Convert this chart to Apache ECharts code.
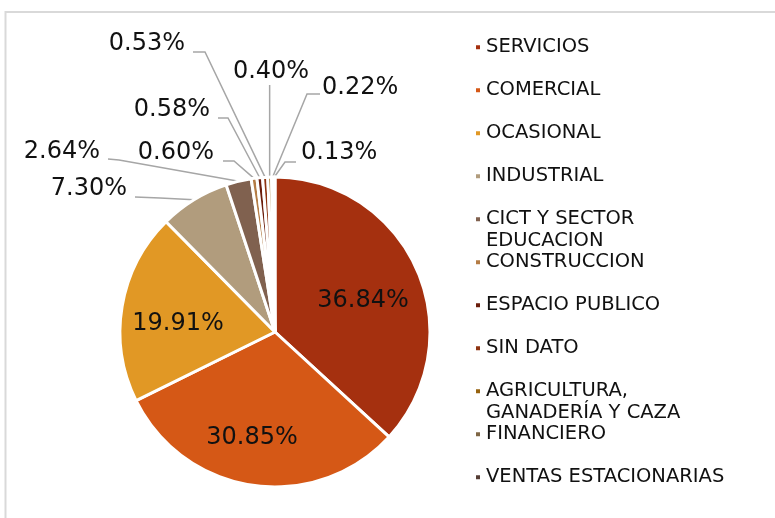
<!DOCTYPE html>
<html>
<head>
<meta charset="UTF-8">
<title>Usos</title>
<script src="https://cdn.jsdelivr.net/npm/echarts@6/dist/echarts.min.js"></script>
</head>
<body style="margin:0">

<div id="box" style="width:775px;height:518px;"></div>

<script type="text/javascript">

// datos
var categories = ['SERVICIOS', 'COMERCIAL', 'OCASIONAL', 'INDUSTRIAL', 'CICT Y SECTOR\nEDUCACION',
  'CONSTRUCCION', 'ESPACIO PUBLICO', 'SIN DATO', 'AGRICULTURA,\nGANADERÍA Y CAZA', 'FINANCIERO',
  'VENTAS ESTACIONARIAS'];
var shares = [36.84, 30.85, 19.91, 7.30, 2.64, 0.60, 0.58, 0.53, 0.40, 0.22, 0.13];

var colors = ['#A5300F', '#D55816', '#E19825', '#B19C7D', '#80614F', '#B47C45',
  '#6B1D0B', '#8E3310', '#96620F', '#7F6645', '#553D34'];

// donde va cada etiqueta y los quiebres de su linea guia
var labelSpots = [
  { x: 363, y: 301, align: 'center' },
  { x: 252, y: 438, align: 'center' },
  { x: 178, y: 324, align: 'center' },
  { x: 127, y: 189, align: 'right', bend: [[160, 198], [135, 197]] },
  { x: 100, y: 152, align: 'right', bend: [[119, 160], [108, 159]] },
  { x: 214, y: 153, align: 'right', bend: [[234, 161], [223, 161]] },
  { x: 210, y: 110, align: 'right', bend: [[228, 118], [218, 118]] },
  { x: 185, y: 44, align: 'right', bend: [[205, 52], [193, 52]] },
  { x: 271, y: 72, align: 'center', bend: [[null, 85]] },
  { x: 322, y: 88, align: 'left', bend: [[307, 94], [320, 94]] },
  { x: 301, y: 153, align: 'left', bend: [[285, 162], [296, 162]] }
];

var mychart = echarts.init(document.getElementById('box'));

var pieData = categories.map(function (name, i) {
  var outside = i > 2;
  return {
    name: name,
    value: shares[i],
    itemStyle: { color: colors[i] },
    label: { position: outside ? 'outside' : 'inside' },
    labelLine: { show: outside }
  };
});

// una leyenda por categoria para fijar el espaciado
var legends = categories.map(function (name, i) {
  var twoLines = name.indexOf('\n') >= 0;
  var center = 47.2 + i * 43;
  return {
    orient: 'vertical',
    left: 474,
    top: center - (twoLines ? 33 : 11),
    padding: 0,
    itemWidth: 6,
    itemHeight: 6,
    icon: 'rect',
    selectedMode: false,
    data: [name],
    // linea vacia arriba para que el cuadro quede junto a la primera linea
    formatter: function (n) { return n.indexOf('\n') >= 0 ? '\n' + n : n; },
    textStyle: {
      fontFamily: 'DejaVu Sans',
      fontSize: 19.5,
      lineHeight: 22,
      color: '#111'
    }
  };
});

var option = {
  animation: false,
  backgroundColor: '#fff',
  graphic: [{
    type: 'rect',
    shape: { x: 5.5, y: 12, width: 800, height: 540 },
    style: { fill: 'none', stroke: '#D9D9D9', lineWidth: 2 },
    silent: true
  }],
  legend: legends,
  series: [{
    name: 'Usos',
    type: 'pie',
    center: [275, 332],
    radius: 155,
    startAngle: 90,
    avoidLabelOverlap: false,
    itemStyle: { borderColor: '#fff', borderWidth: 3 },
    label: {
      fontFamily: 'DejaVu Sans',
      fontSize: 24,
      color: '#111',
      formatter: function (p) { return p.value.toFixed(2) + '%'; }
    },
    labelLine: {
      length: 10,
      length2: 10,
      lineStyle: { color: '#A6A6A6', width: 1.5 }
    },
    labelLayout: function (params) {
      var s = labelSpots[params.dataIndex];
      var out = { x: s.x, y: s.y, align: s.align, verticalAlign: 'middle' };
      if (s.bend && params.labelLinePoints) {
        var edge = params.labelLinePoints[0];
        var pts = [edge];
        s.bend.forEach(function (b) {
          pts.push([b[0] == null ? edge[0] : b[0], b[1]]);
        });
        out.labelLinePoints = pts;
      }
      return out;
    },
    data: pieData
  }]
};

mychart.setOption(option);
</script>
</body>
</html>
